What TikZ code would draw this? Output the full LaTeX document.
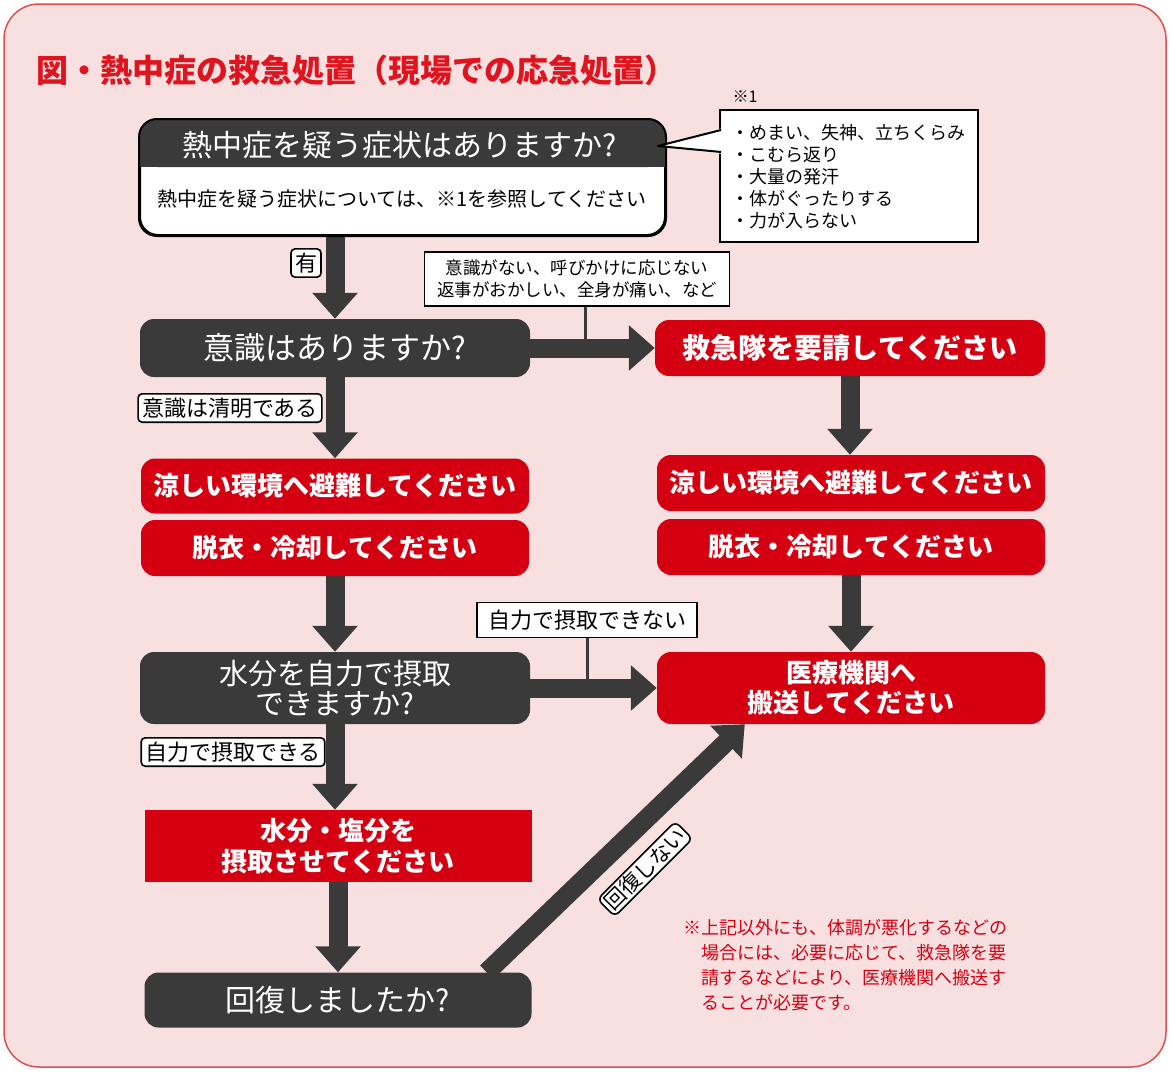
\documentclass[tikz,border=0pt]{standalone}
\usepackage{fontspec}
\setmainfont{Noto Sans CJK JP}
\usetikzlibrary{arrows.meta}
\definecolor{bgpink}{RGB}{249,224,224}
\definecolor{framered}{RGB}{222,80,80}
\definecolor{boxred}{RGB}{212,0,18}
\definecolor{dk}{RGB}{58,58,58}
\definecolor{titlered}{RGB}{222,20,30}
\newcommand\fs[2]{\fontsize{#1}{#2}\selectfont}
\pgfdeclarelayer{back}
\pgfdeclarelayer{bg}
\pgfsetlayers{back,bg,main}
\tikzset{
  darkbox/.style={fill=dk, rounded corners=14pt, text=white, align=center, inner sep=0pt},
  redbox/.style={fill=boxred, rounded corners=14pt, text=white, align=center, inner sep=0pt},
  lbl/.style={draw=black, line width=1.6pt, fill=white, rounded corners=4pt, inner sep=4pt},
  sqlbl/.style={draw=black, line width=1.6pt, fill=white, align=center, inner sep=2pt},
  flow/.style={draw=dk, line width=19pt, -{Triangle[width=44pt,length=26pt]}},
  tie/.style={draw=dk, line width=3pt}
}
\begin{document}
\begin{tikzpicture}[x=1pt,y=-1pt]
\begin{pgfonlayer}{back}
\fill[white] (0,0) rectangle (1172,1071);
\useasboundingbox (0,0) rectangle (1172,1071);
\draw[framered, line width=1.5pt, fill=bgpink, rounded corners=35pt] (4,4) rectangle (1166,1067);
\end{pgfonlayer}

\node[anchor=west, text=titlered, font=\fs{32}{36}\bfseries] (title) at (33,70) {図・熱中症の救急処置（現場での応急処置）};

% top question box
\node[draw=black, line width=2pt, fill=white, rounded corners=18pt, minimum width=525pt, minimum height=115pt, inner sep=0pt] (q1) at (402.5,177.5) {};
\fill[dk, rounded corners=18pt] (q1.north west) rectangle ([yshift=-48pt]q1.east |- q1.north);
\fill[dk] ([yshift=-25pt]q1.north west) rectangle ([yshift=-48pt]q1.north east);
\draw[line width=2pt, rounded corners=18pt] (q1.north west) rectangle (q1.south east);
\node[text=white, font=\fs{30}{32}] (q1t) at (400,145) {熱中症を疑う症状はありますか?};
\node[font=\fs{20}{22}] (q1s) at (402,199) {熱中症を疑う症状については、※1を参照してください};

% callout
\node[font=\fs{16}{18}] (ref1) at (745,97) {※1};
\node[draw=black, line width=2pt, fill=white, minimum width=258pt, minimum height=132pt] (c1) at (849,176) {};
\fill[white] (723,128) -- (658,146) -- (723,154) -- cycle;
\draw[line width=2pt, line join=round] (721,130) -- (658,146) -- (721,152);
\node[anchor=west, align=left, font=\fs{18}{22}] (c1t) at (728,177) {・めまい、失神、立ちくらみ\\・こむら返り\\・大量の発汗\\・体がぐったりする\\・力が入らない};

% consciousness
\node[darkbox, minimum width=390pt, minimum height=58pt, font=\fs{31}{33}] (q2) at (335,348) {意識はありますか?};
\node[sqlbl, minimum width=305pt, minimum height=54pt, font=\fs{17.5}{22}] (l1) at (577,279) {意識がない、呼びかけに応じない\\返事がおかしい、全身が痛い、など};
\coordinate (l1b) at ([xshift=8pt]l1.south);

% right column
\node[redbox, minimum width=390pt, minimum height=56pt, font=\fs{28}{30}\bfseries] (r1) at (850,348) {救急隊を要請してください};
\node[redbox, minimum width=388pt, minimum height=56pt, font=\fs{26}{30}\bfseries] (r2) at (851,483) {涼しい環境へ避難してください};
\node[redbox, minimum width=388pt, minimum height=56pt, font=\fs{26}{30}\bfseries] (r3) at (851,547) {脱衣・冷却してください};
\node[redbox, minimum width=388pt, minimum height=72pt, font=\fs{26}{30}\bfseries] (r4) at (851,688) {医療機関へ\\搬送してください};

% left column
\node[redbox, minimum width=388pt, minimum height=55pt, font=\fs{26}{30}\bfseries] (a1) at (335,486) {涼しい環境へ避難してください};
\node[redbox, minimum width=388pt, minimum height=56pt, font=\fs{26}{30}\bfseries] (a2) at (335,548) {脱衣・冷却してください};
\node[darkbox, minimum width=390pt, minimum height=72pt, font=\fs{29}{30}] (q3) at (335,688) {水分を自力で摂取\\できますか?};
\node[fill=boxred, text=white, align=center, inner sep=0pt, minimum width=387pt, minimum height=72pt, font=\fs{26}{31}\bfseries] (a3) at (338,846) {水分・塩分を\\摂取させてください};
\node[darkbox, minimum width=387pt, minimum height=55pt, font=\fs{30}{32}] (q4) at (338,1000) {回復しましたか?};
\node[sqlbl, minimum width=220pt, minimum height=35pt, font=\fs{22}{24}] (l3) at (587,620) {自力で摂取できない};

\coordinate (d0) at ([xshift=-45pt]q4.north east);
\coordinate (d1) at ([xshift=88pt]r4.south west);

\begin{pgfonlayer}{bg}
\draw[flow] (q1.south -| q2.north) -- (q2.north);
\draw[flow] (q2.east) -- (r1.west);
\draw[tie] (l1b) -- (l1b |- q2.east);
\draw[flow] (r1.south) -- (r1.south |- r2.north);
\draw[flow] (r3.south) -- (r3.south |- r4.north);
\draw[flow] (q2.south) -- (q2.south |- a1.north);
\draw[flow] (a2.south) -- (a2.south |- q3.north);
\draw[flow] (q3.east) -- (r4.west);
\draw[tie] (l3.south) -- (l3.south |- q3.east);
\draw[flow] (q3.south) -- (q3.south |- a3.north);
\draw[flow] (a3.south) -- (a3.south |- q4.north);
\draw[flow] (d0) -- (d1);
\end{pgfonlayer}

% labels on connectors
\node[lbl, font=\fs{22}{24}] (yes) at (306,263) {有};
\node[lbl, font=\fs{22}{24}] (clear) at (230,408) {意識は清明である};
\node[lbl, font=\fs{22}{24}] (can) at (233,752) {自力で摂取できる};
\node[lbl, rotate=45, rounded corners=6pt, inner sep=2.5pt, font=\fs{21}{23}] (norec) at (645,869) {回復しない};

% note
\node[anchor=north west, align=left, text=boxred, font=\fs{18}{25}] (note) at (680,916) {\makebox[1em][l]{※}上記以外にも、体調が悪化するなどの\\\hspace*{1em}場合には、必要に応じて、救急隊を要\\\hspace*{1em}請するなどにより、医療機関へ搬送す\\\hspace*{1em}ることが必要です。};
\end{tikzpicture}
\end{document}
